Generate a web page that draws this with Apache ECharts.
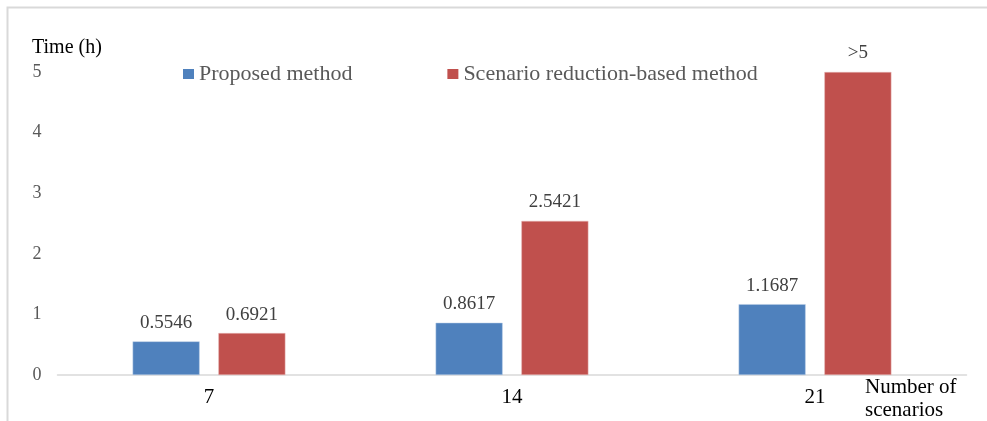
<!DOCTYPE html>
<html>
<head>
<meta charset="utf-8">
<script src="https://cdn.jsdelivr.net/npm/echarts@6/dist/echarts.min.js"></script>
<style>
  html, body { margin: 0; padding: 0; background: #fff; }
  #chart { width: 987px; height: 421px; }
</style>
</head>
<body>
<div id="chart"></div>
<script>
// Solve time per method for each scenario count
const categories = ['7', '14', '21'];
const seriesNames = ['Proposed method', 'Scenario reduction-based method'];
const proposedValues = [0.5546, 0.8617, 1.1687];
const reductionValues = [0.6921, 2.5421, 5];
const yTicks = [0, 1, 2, 3, 4, 5];

const yMax = yTicks[yTicks.length - 1];
const serif = '"Liberation Serif", "DejaVu Serif", serif';

const chart = echarts.init(document.getElementById('chart'));

const valueLabel = {
  show: true,
  position: 'top',
  distance: 9,
  fontFamily: serif,
  fontSize: 19,
  color: '#404040',
  // the capped bar is shown as exceeding the axis range
  formatter: p => (p.value >= yMax ? '>' + yMax : String(p.value))
};

chart.setOption({
  animation: false,
  grid: { left: 57.5, right: 20.5, top: 72, bottom: 46, containLabel: false },
  legend: {
    left: 183,
    top: 63,
    padding: 0,
    itemWidth: 11,
    itemHeight: 10,
    itemGap: 95,
    icon: 'rect',
    itemStyle: { borderWidth: 0 },
    textStyle: { fontFamily: serif, fontSize: 22, color: '#595959' },
    data: seriesNames
  },
  xAxis: {
    type: 'category',
    data: categories,
    axisLine: { lineStyle: { color: '#D9D9D9', width: 1.5 } },
    axisTick: { show: false },
    axisLabel: { fontFamily: serif, fontSize: 21, color: '#000', margin: 12 }
  },
  yAxis: {
    type: 'value',
    min: 0,
    max: yMax,
    interval: 1,
    axisLine: { show: false },
    axisTick: { show: false },
    splitLine: { show: false },
    axisLabel: { fontFamily: serif, fontSize: 18, color: '#595959', margin: 16 }
  },
  series: [
    {
      name: seriesNames[0],
      type: 'bar',
      data: proposedValues,
      barWidth: 67,
      barGap: '28%',
      itemStyle: { color: '#4F81BD', borderColor: '#B9CDE5', borderWidth: 0.5 },
      label: valueLabel
    },
    {
      name: seriesNames[1],
      type: 'bar',
      data: reductionValues,
      barWidth: 67,
      itemStyle: { color: '#C0504D', borderColor: '#E6B9B8', borderWidth: 0.5 },
      label: valueLabel
    }
  ],
  graphic: [
    {
      type: 'rect',
      left: 5,
      top: 5,
      shape: { width: 1000, height: 500 },
      style: { fill: 'none', stroke: '#D9D9D9', lineWidth: 2 },
      silent: true
    },
    {
      type: 'text',
      left: 32,
      top: 38,
      style: { text: 'Time (h)', fontFamily: serif, fontSize: 20, fill: '#000' }
    },
    {
      type: 'text',
      left: 865,
      top: 376,
      style: {
        text: 'Number of\nscenarios',
        fontFamily: serif,
        fontSize: 21,
        lineHeight: 23,
        fill: '#000',
        align: 'center',
        x: 47
      }
    }
  ]
});
</script>
</body>
</html>
